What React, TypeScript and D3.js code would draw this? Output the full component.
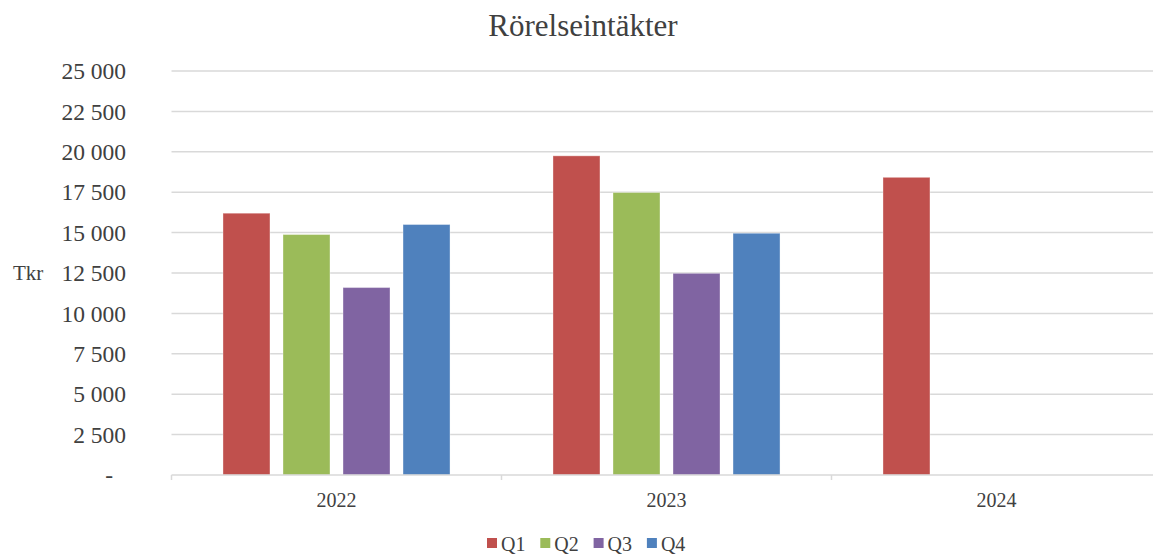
import React, { useEffect, useRef } from 'react'
import * as d3 from 'd3'

const years = ['2022', '2023', '2024']
const quarters = ['Q1', 'Q2', 'Q3', 'Q4']
const q1 = [16200, 19750, 18420]
const q2 = [14880, 17480, null]
const q3 = [11600, 12480, null]
const q4 = [15500, 14960, null]
const yTicks = [0, 2500, 5000, 7500, 10000, 12500, 15000, 17500, 20000, 22500, 25000]
const colors = ['#C0504D', '#9BBB59', '#8064A2', '#4F81BD']

const FONT = '"Liberation Serif", "Times New Roman", serif'
const TEXT = '#404040'

const App = () => {
  const svgRef = useRef<SVGSVGElement>(null)

  useEffect(() => {
    draw()
  }, [])

  const draw = () => {
    const W = 1153
    const H = 556
    const left = 171.5
    const right = 1161.5
    const top = 71
    const bottom = 475

    const svg = d3.select(svgRef.current)
    svg.selectAll('*').remove()
    svg.attr('width', W).attr('height', H)

    const series = [q1, q2, q3, q4]

    const x0 = d3.scaleBand()
      .domain(years)
      .range([left, right])
      .padding(0)

    const x1 = d3.scaleBand()
      .domain(quarters)
      .range([0, x0.bandwidth()])
      .paddingInner(0.217)
      .paddingOuter(0.858)

    const y = d3.scaleLinear()
      .domain([0, 25000])
      .range([bottom, top])

    const z = d3.scaleOrdinal<string>()
      .domain(quarters)
      .range(colors)

    // title
    svg.append('text')
      .attr('x', 583)
      .attr('y', 36)
      .attr('text-anchor', 'middle')
      .attr('font-family', FONT)
      .attr('font-size', 31)
      .attr('fill', TEXT)
      .text('Rörelseintäkter')

    // gridlines
    svg.append('g')
      .selectAll('line')
      .data(yTicks.filter(d => d > 0))
      .enter().append('line')
      .attr('x1', left)
      .attr('x2', right)
      .attr('y1', d => y(d))
      .attr('y2', d => y(d))
      .attr('stroke', '#d9d9d9')
      .attr('stroke-width', 1.5)

    // y labels
    svg.append('g')
      .selectAll('text')
      .data(yTicks)
      .enter().append('text')
      .attr('x', d => d === 0 ? 113 : 126)
      .attr('y', d => y(d))
      .attr('dy', '0.35em')
      .attr('text-anchor', 'end')
      .attr('font-family', FONT)
      .attr('font-size', 23.5)
      .attr('fill', TEXT)
      .text(d => d === 0 ? '-' : d3.format(',')(d).replace(/,/g, ' '))

    svg.append('text')
      .attr('x', 13)
      .attr('y', y(12500))
      .attr('dy', '0.35em')
      .attr('font-family', FONT)
      .attr('font-size', 21)
      .attr('fill', TEXT)
      .text('Tkr')

    // bars
    const rows = years.map((yr, i) => ({
      year: yr,
      values: quarters.map((q, k) => ({ key: q, value: series[k][i] }))
    }))

    svg.append('g')
      .selectAll('g')
      .data(rows)
      .enter().append('g')
      .attr('transform', d => `translate(${x0(d.year)},0)`)
      .selectAll('rect')
      .data(d => d.values.filter(v => v.value != null))
      .enter().append('rect')
      .attr('x', d => x1(d.key)!)
      .attr('y', d => y(d.value as number))
      .attr('width', x1.bandwidth())
      .attr('height', d => bottom - y(d.value as number))
      .attr('fill', d => z(d.key))
      .attr('stroke', '#ffffff')
      .attr('stroke-opacity', 0.35)
      .attr('stroke-width', 1)

    // x axis
    const axis = svg.append('g')
    axis.append('line')
      .attr('x1', left)
      .attr('x2', right)
      .attr('y1', bottom)
      .attr('y2', bottom)
      .attr('stroke', '#d9d9d9')
      .attr('stroke-width', 1.5)

    axis.selectAll('line.tick')
      .data(years)
      .enter().append('line')
      .attr('class', 'tick')
      .attr('x1', d => x0(d)!)
      .attr('x2', d => x0(d)!)
      .attr('y1', bottom)
      .attr('y2', bottom + 5)
      .attr('stroke', '#d9d9d9')
      .attr('stroke-width', 1.5)

    axis.selectAll('text')
      .data(years)
      .enter().append('text')
      .attr('x', d => x0(d)! + x0.bandwidth() / 2)
      .attr('y', 507)
      .attr('text-anchor', 'middle')
      .attr('font-family', FONT)
      .attr('font-size', 20)
      .attr('fill', TEXT)
      .text(d => d)

    // legend
    const legend = svg.append('g')
      .selectAll('g')
      .data(quarters)
      .enter().append('g')
      .attr('transform', (d, i) => `translate(${487 + i * 53.3}, 0)`)

    legend.append('rect')
      .attr('x', 0)
      .attr('y', 538)
      .attr('width', 10)
      .attr('height', 10)
      .attr('fill', z)

    legend.append('text')
      .attr('x', 14)
      .attr('y', 551)
      .attr('font-family', FONT)
      .attr('font-size', 20)
      .attr('fill', TEXT)
      .text(d => d)
  }

  return (
    <div>
      <svg ref={svgRef} style={{ position: 'absolute', left: 0, top: 0, background: '#fff' }}></svg>
    </div>
  )
}

export default App
